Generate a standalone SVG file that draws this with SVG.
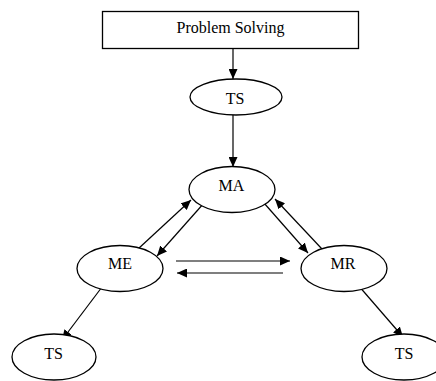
<svg xmlns="http://www.w3.org/2000/svg" width="436" height="381" viewBox="0 0 436 381">
<style>
.n{fill:#fff;stroke:#000;stroke-width:1.3}
.t{font-family:"Liberation Serif","Times New Roman",serif;font-size:16px;fill:#000;text-anchor:middle}
.c{stroke:#000;stroke-width:1.2;fill:none;marker-end:url(#ah)}
</style>
<defs>
<marker id="ah" markerUnits="userSpaceOnUse" markerWidth="11" markerHeight="9" refX="10" refY="4.5" orient="auto">
<path d="M0,0 L10,4.5 L0,9 Z" fill="#000"/>
</marker>
</defs>
<rect width="436" height="381" fill="#fff"/>
<g id="connectors">
<line class="c" x1="233" y1="48" x2="233" y2="79"/>
<line class="c" x1="233" y1="115" x2="233" y2="167"/>
<line class="c" x1="138" y1="249" x2="191" y2="200"/>
<line class="c" x1="204" y1="203" x2="157" y2="256"/>
<line class="c" x1="264" y1="203" x2="308" y2="253"/>
<line class="c" x1="322" y1="249" x2="275" y2="199"/>
<line class="c" x1="176" y1="261" x2="290" y2="261"/>
<line class="c" x1="283" y1="273" x2="177" y2="273"/>
<line class="c" x1="102" y1="287" x2="62" y2="340"/>
<line class="c" x1="358" y1="285" x2="403" y2="337"/>
</g>
<g id="problem-solving">
<rect class="n" x="102.5" y="11.5" width="256" height="37"/>
<text class="t" x="230.5" y="33">Problem Solving</text>
</g>
<g id="ts-top">
<ellipse class="n" cx="236" cy="97" rx="46" ry="18"/>
<text class="t" x="235" y="104">TS</text>
</g>
<g id="ma">
<ellipse class="n" cx="232" cy="189.5" rx="43" ry="23"/>
<text class="t" x="231.5" y="191">MA</text>
</g>
<g id="me">
<ellipse class="n" cx="120" cy="268.5" rx="43" ry="23"/>
<text class="t" x="120" y="269">ME</text>
</g>
<g id="mr">
<ellipse class="n" cx="344" cy="268.5" rx="43" ry="23"/>
<text class="t" x="343" y="269">MR</text>
</g>
<g id="ts-left">
<ellipse class="n" cx="54" cy="357" rx="42" ry="23"/>
<text class="t" x="53.5" y="359">TS</text>
</g>
<g id="ts-right">
<ellipse class="n" cx="404" cy="357" rx="42" ry="23"/>
<text class="t" x="404" y="359">TS</text>
</g>
</svg>
